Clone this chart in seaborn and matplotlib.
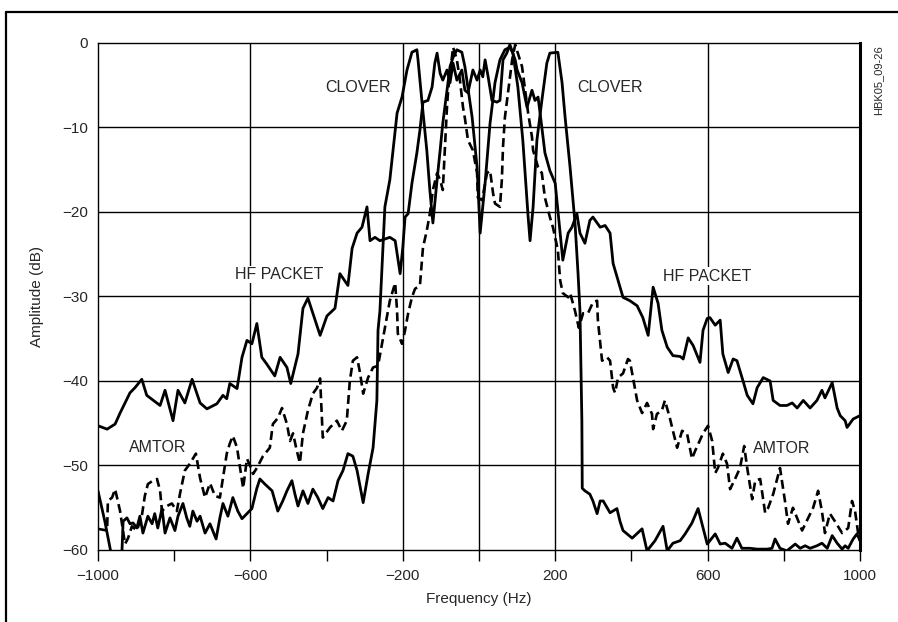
import numpy as np
import pandas as pd
import matplotlib
matplotlib.use("Agg")
import matplotlib.pyplot as plt
from matplotlib.lines import Line2D
import seaborn as sns

# Spectra (frequency in Hz, amplitude in dB)
hf_freq = [-1000, -976, -955, -942, -916, -903, -885, -872, -837, -824, -803, -790,
           -772, -753, -732, -714, -688, -672, -662, -654, -635, -622, -609, -596,
           -583, -570, -557, -536, -522, -504, -494, -475, -462, -449, -438, -417,
           -399, -378, -365, -344, -333, -320, -307, -294, -286, -273, -260, -234,
           -220, -207, -200, -194, -186, -176, -163, -155, -147, -134, -123, -116,
           -110, -102, -95, -84, -76, -68, -58, -45, -37, -29, -16, -5, 3, 10, 16,
           24, 34, 47, 55, 63, 73, 81, 95, 100, 113, 126, 139, 147, 155, 165, 173,
           186, 200, 213, 220, 234, 244, 257, 265, 278, 291, 299, 318, 331, 344,
           352, 365, 378, 396, 415, 430, 444, 457, 470, 480, 494, 509, 528, 536,
           549, 562, 580, 588, 599, 606, 620, 633, 640, 654, 667, 677, 693, 704,
           719, 730, 746, 764, 772, 790, 808, 822, 835, 851, 869, 887, 900, 908,
           927, 940, 948, 961, 966, 982, 1000]
hf_amp = [-45.3, -45.7, -45.1, -43.8, -41.4, -40.8, -39.8, -41.7, -42.9, -41.1, -44.7, -41.1,
          -42.6, -39.8, -42.6, -43.3, -42.7, -41.7, -42.1, -40.3, -40.9, -37.2, -35.2, -35.6,
          -33.2, -37.2, -38.0, -39.4, -37.2, -38.4, -40.3, -36.8, -31.4, -30.2, -31.7, -34.6,
          -32.3, -31.4, -27.3, -28.7, -24.3, -22.5, -21.8, -19.4, -23.4, -23.0, -23.4, -23.0,
          -23.4, -27.3, -24.2, -20.6, -20.2, -16.6, -13.0, -10.3, -7.0, -6.8, -5.2, -2.4,
          -1.2, -3.6, -4.4, -3.2, -4.7, -2.4, -4.4, -3.2, -5.6, -5.9, -3.2, -4.4, -3.2, -4.0, -2.0,
          -4.0, -6.8, -7.0, -6.8, -2.0, -1.2, -0.2, -2.0, -3.2, -4.7, -7.6, -5.6, -6.8, -6.4, -10.0, -13.0,
          -15.1, -16.6, -22.5, -25.7, -22.5, -21.8, -20.2, -22.5, -23.7, -21.0, -20.6, -21.8, -21.6, -22.5,
          -26.1, -28.1, -30.1, -30.5, -31.1, -32.5, -34.6, -28.9, -30.8, -34.0, -36.0, -37.0, -37.1, -37.4,
          -34.9, -35.8, -37.8, -34.0, -32.6, -32.5, -33.4, -32.8, -36.8, -39.0, -37.4, -37.6, -40.0, -41.7,
          -42.7, -40.8, -39.6, -40.0, -42.3, -42.9, -42.9, -42.6, -43.2, -42.3, -43.2, -42.3, -41.1, -42.0,
          -40.2, -43.2, -44.1, -44.7, -45.5, -44.5, -44.1]

clover_freq = [-1000, -982, -963, -950, -937, -934, -924, -916, -908, -898, -890, -882,
               -869, -858, -851, -843, -832, -824, -811, -798, -790, -777, -767, -759,
               -751, -740, -732, -719, -706, -690, -680, -672, -659, -646, -633, -622,
               -596, -583, -575, -562, -543, -528, -515, -504, -491, -483, -475, -462,
               -449, -436, -423, -410, -396, -383, -370, -357, -344, -331, -320, -304,
               -291, -278, -268, -265, -260, -247, -234, -215, -202, -189, -176, -163,
               -160, -150, -137, -129, -121, -110, -102, -95, -84, -76, -68, -58, -45,
               -37, -18, -5, 3, 16, 29, 42, 55, 68, 81, 89, 102, 115, 129, 134, 142,
               152, 165, 178, 186, 207, 218, 226, 239, 252, 260, 265, 270, 271, 278,
               291, 299, 310, 318, 326, 344, 362, 370, 378, 402, 428, 441, 462, 483,
               494, 509, 528, 541, 559, 575, 599, 606, 620, 633, 646, 664, 677, 690,
               711, 730, 756, 769, 777, 790, 808, 830, 843, 856, 869, 887, 900, 914,
               927, 940, 953, 961, 969, 982, 992, 1000]
clover_amp = [-53.0, -56.6, -61.0, -62.0, -60.1, -56.6, -56.2, -56.9, -56.8, -57.4, -56.0, -58.0,
              -56.0, -56.9, -55.7, -57.4, -55.1, -58.0, -56.2, -57.7, -56.0, -54.5, -56.2, -57.2,
              -55.4, -56.6, -56.0, -58.0, -56.9, -58.7, -56.2, -54.5, -56.0, -53.8, -55.4, -56.3,
              -55.1, -52.7, -51.6, -52.2, -53.0, -55.4, -54.2, -53.0, -51.8, -53.4, -54.8, -53.0,
              -54.5, -52.8, -53.8, -55.1, -53.8, -54.2, -51.8, -50.6, -48.6, -48.9, -50.6, -54.4,
              -51.0, -47.9, -42.3, -34.0, -31.7, -19.4, -16.2, -8.3, -6.4, -3.2, -1.1, -0.8,
              -2.0, -6.8, -12.7, -17.4, -21.3, -16.2, -12.7, -9.5, -5.6, -2.8, -1.7, -0.8, -1.1,
              -2.8, -8.8, -14.7, -22.5, -16.6, -9.5, -4.7, -2.0, -0.8, -0.5, -1.2, -5.2, -11.5, -20.6, -23.4, -19.4,
              -11.5, -6.8, -2.4, -1.2, -1.1, -4.7, -8.8, -14.7, -21.3, -27.3, -31.7, -44.7, -52.7, -53.0,
              -53.4, -54.2, -55.7, -54.2, -54.2, -55.6, -55.1, -56.6, -57.7, -58.6, -57.5, -60.1, -58.9, -57.2,
              -60.1, -59.2, -58.9, -58.1, -56.8, -55.1, -59.3, -58.9, -58.1, -59.3, -59.2, -59.8, -58.6, -59.8,
              -59.8, -59.9, -59.9, -59.8, -58.7, -59.8, -60.1, -59.3, -59.8, -59.5, -59.8, -59.5, -59.2, -59.8,
              -58.3, -59.2, -59.9, -59.5, -59.8, -58.7, -58.1, -58.9]

amtor_freq = [-1000, -976, -974, -963, -955, -948, -942, -929, -921, -911, -898, -885,
              -877, -869, -856, -845, -837, -832, -819, -806, -793, -785, -772, -759,
              -743, -732, -719, -706, -693, -680, -672, -662, -654, -646, -635, -627,
              -619, -609, -601, -593, -583, -567, -549, -541, -528, -517, -504, -496,
              -488, -478, -470, -462, -449, -436, -425, -417, -410, -391, -373, -360,
              -347, -339, -331, -320, -312, -304, -291, -278, -265, -247, -234, -220,
              -215, -213, -202, -194, -186, -176, -168, -155, -147, -137, -129, -121,
              -110, -102, -95, -84, -81, -74, -68, -58, -50, -42, -37, -29, -16, -5,
              -3, 8, 21, 29, 37, 42, 55, 60, 63, 68, 76, 87, 95, 102, 113, 121, 129,
              139, 142, 155, 165, 173, 186, 194, 207, 213, 220, 234, 239, 252, 262,
              273, 286, 299, 310, 312, 323, 336, 344, 352, 357, 365, 378, 391, 396,
              404, 415, 428, 441, 454, 457, 467, 480, 488, 501, 509, 520, 533, 546,
              559, 567, 588, 601, 612, 620, 627, 640, 651, 659, 672, 685, 696, 704,
              717, 725, 738, 751, 759, 772, 790, 803, 811, 824, 848, 864, 877, 890,
              900, 908, 921, 934, 953, 969, 979, 987, 995, 1000]
amtor_amp = [-57.5, -57.7, -54.2, -53.8, -52.8, -54.2, -55.4, -59.3, -58.6, -57.2, -57.7, -56.0,
             -53.6, -52.2, -51.8, -51.6, -53.0, -55.4, -54.8, -54.5, -55.4, -53.4, -50.6, -49.8,
             -48.6, -51.5, -53.8, -52.1, -53.6, -53.8, -51.5, -48.6, -47.4, -46.5, -47.9, -50.3,
             -52.7, -49.2, -50.0, -51.0, -50.3, -48.9, -47.9, -45.1, -44.4, -43.2, -45.1, -47.1,
             -46.2, -48.3, -49.7, -46.2, -43.5, -41.5, -40.8, -39.7, -46.7, -45.5, -44.7, -45.9,
             -44.7, -40.0, -37.6, -37.2, -39.1, -41.5, -39.6, -38.4, -38.2, -33.7, -30.5, -28.4,
             -31.7, -34.4, -35.6, -34.0, -32.0, -30.1, -29.1, -28.7, -24.2, -22.2, -20.2, -17.4,
             -15.4, -16.2, -17.4, -7.6, -5.6, -2.8, -0.5, -2.0, -4.4, -7.6, -8.9, -11.5, -12.7, -15.4,
             -18.3, -18.6, -15.4, -15.1, -17.8, -19.0, -19.4, -16.2, -12.3, -8.8, -5.9, -2.0, -0.2, -1.2, -2.8, -5.6, -8.3,
             -11.1, -12.7, -14.7, -15.4, -18.3, -20.6, -21.8, -24.5, -28.1, -29.6, -30.1, -29.6, -31.7, -33.7,
             -32.0, -32.0, -30.7, -30.5, -32.8, -37.6, -37.2, -37.6, -40.8, -41.4, -39.6, -39.1, -37.4, -37.6,
             -39.6, -42.3, -43.8, -42.6, -43.9, -45.7, -43.9, -43.5, -42.3, -44.4, -45.9, -47.9, -45.9, -46.2,
             -49.2, -48.3, -46.2, -45.3, -47.1, -50.9, -50.3, -48.6, -49.8, -52.8, -51.6, -50.3, -47.7, -50.3,
             -54.0, -51.8, -51.6, -55.6, -55.0, -53.4, -50.3, -54.2, -56.9, -55.0, -57.7, -56.2, -55.0, -53.0,
             -55.4, -58.0, -55.7, -56.6, -58.0, -57.4, -54.2, -55.4, -58.0, -58.9]

labels = ["CLOVER", "CLOVER", "HF PACKET", "HF PACKET", "AMTOR", "AMTOR"]
label_freq = [-318, 344, -525, 599, -843, 795]
label_amp = [-5.3, -5.3, -27.4, -27.6, -47.9, -48.0]

x_ticks = [-1000, -800, -600, -400, -200, 0, 200, 400, 600, 800, 1000]
x_ticklabels = ["\u22121000", "", "\u2212600", "", "\u2212200", "", "200", "", "600", "", "1000"]
y_ticks = [0, -10, -20, -30, -40, -50, -60]
x_grid = [-600, -200, 0, 200, 600]

sns.set_style("white")
plt.rcParams['font.family'] = ['Liberation Sans', 'DejaVu Sans']

fig = plt.figure(figsize=(8.98, 6.22), dpi=100)
ax = fig.add_axes([0.1091, 0.1158, 0.8486, 0.8151])

for gx in x_grid:
    ax.axvline(gx, color="black", lw=1.0, zorder=1)
for gy in y_ticks[1:-1]:
    ax.axhline(gy, color="black", lw=1.0, zorder=1)

df_hf = pd.DataFrame({"freq": hf_freq, "amp": hf_amp})
df_cl = pd.DataFrame({"freq": clover_freq, "amp": clover_amp})
df_am = pd.DataFrame({"freq": amtor_freq, "amp": amtor_amp})

sns.lineplot(data=df_hf, x="freq", y="amp", sort=False, estimator=None,
             color="black", lw=2.0, ax=ax, zorder=3)
sns.lineplot(data=df_cl, x="freq", y="amp", sort=False, estimator=None,
             color="black", lw=2.0, ax=ax, zorder=3)
sns.lineplot(data=df_am, x="freq", y="amp", sort=False, estimator=None,
             color="black", lw=1.9, ax=ax, zorder=3)
ax.lines[-1].set_dashes([3.4, 1.8])

for t, fx, fy in zip(labels, label_freq, label_amp):
    ax.text(fx, fy, t, ha="center", va="center", fontsize=11.5,
            bbox=dict(facecolor="white", edgecolor="none", pad=1.0), zorder=4)

ax.set_xlim(-1000, 1000)
ax.set_ylim(-60, 0)
ax.set_xticks(x_ticks)
ax.set_xticklabels(x_ticklabels)
ax.set_yticks(y_ticks)
ax.set_yticklabels([str(v) if v == 0 else "\u2212" + str(-v) for v in y_ticks])
ax.tick_params(axis="x", direction="out", length=8, width=1, pad=6,
               labelsize=11, color="black", bottom=True)
ax.tick_params(axis="y", length=0, pad=7, labelsize=11)
ax.set_xlabel("Frequency (Hz)", fontsize=11, labelpad=6)
ax.set_ylabel("Amplitude (dB)", fontsize=11, labelpad=13)

for side in ["left", "top", "bottom"]:
    ax.spines[side].set_color("black")
    ax.spines[side].set_linewidth(1.0)
ax.spines["right"].set_color("black")
ax.spines["right"].set_linewidth(2.2)

fig.text(0.978, 0.928, "HBK05_09-26", rotation=90, ha="center", va="top", fontsize=8)

# outer frame
fig.add_artist(Line2D([6 / 898, 1.0], [1 - 12 / 622, 1 - 12 / 622], color="black", lw=1.6,
                      transform=fig.transFigure))
fig.add_artist(Line2D([6 / 898, 6 / 898], [0.0, 1 - 12 / 622], color="black", lw=1.6,
                      transform=fig.transFigure))

fig.savefig("out.png", dpi=100)
